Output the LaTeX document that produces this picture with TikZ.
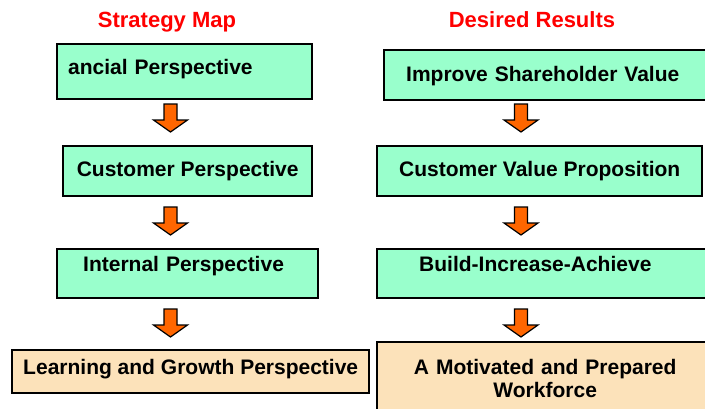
\documentclass[tikz,border=0pt]{standalone}
\usepackage{fontspec}
\setmainfont{Liberation Sans}
\definecolor{mint}{RGB}{153,255,204}
\definecolor{wheatbox}{RGB}{252,226,186}
\definecolor{arroworange}{RGB}{255,102,0}
\definecolor{titlered}{RGB}{255,0,0}
\tikzset{downarrow/.pic={
  \filldraw[fill=arroworange, draw=black, line width=1.2pt]
    (-6.5,0) -- (6.5,0) -- (6.5,16) -- (17,16) -- (0,28) -- (-17,16) -- (-6.5,16) -- cycle;
}}
\begin{document}
\begin{tikzpicture}[x=1pt,y=-1pt]
       \tikzstyle{box}=[draw=black, line width=2.4pt, inner ysep=0pt, anchor=north west,
                        font=\fontsize{21}{23}\selectfont\bfseries]
       \tikzstyle{goalnode}=[box, fill=mint]
       \tikzstyle{peoplenode}=[box, fill=wheatbox]
       \tikzstyle{heading}=[titlered, anchor=base, font=\fontsize{22}{24}\selectfont\bfseries]
       \clip (0,0) rectangle (705,408);
       \node[heading] (smap) at (167,27) {Strategy Map};
       \node[heading] (dres) at (532,27) {Desired Results};
       % strategy map column
       \node[goalnode, inner xsep=11pt, text width=233pt, align=left,
             text height=30pt, text depth=25pt] (fin) at (56,43) {ancial Perspective};
       \node[goalnode, minimum width=249pt, text height=30pt, text depth=20pt] (cust) at (62,145) {Customer Perspective};
       \node[goalnode, inner xsep=26pt, text width=209pt, align=left,
             text height=22pt, text depth=27pt] (intp) at (56,248) {Internal Perspective};
       \node[peoplenode, minimum width=357pt, text height=24pt, text depth=19pt] (learn) at (11,349) {Learning and Growth Perspective};
       % desired results column
       \node[goalnode, inner xsep=22pt, text width=285pt, align=left,
             text height=31pt, text depth=19pt] (share) at (383,49) {Improve Shareholder Value};
       \node[goalnode, minimum width=325pt, text height=30pt, text depth=20pt] (prop) at (376,145) {Customer Value Proposition};
       \node[goalnode, inner xsep=42pt, text width=252pt, align=left,
             text height=22pt, text depth=27pt] (bia) at (376,248) {Build-Increase-Achieve};
       \node[peoplenode, inner xsep=20pt, text width=296pt, align=center,
             text height=32pt, text depth=80pt] (work) at (376,341) {A Motivated and Prepared\\Workforce};
       \foreach \x in {170.5,521}
        \foreach \y in {104,207,309}
         \pic at (\x,\y) {downarrow};
\end{tikzpicture}
\end{document}
